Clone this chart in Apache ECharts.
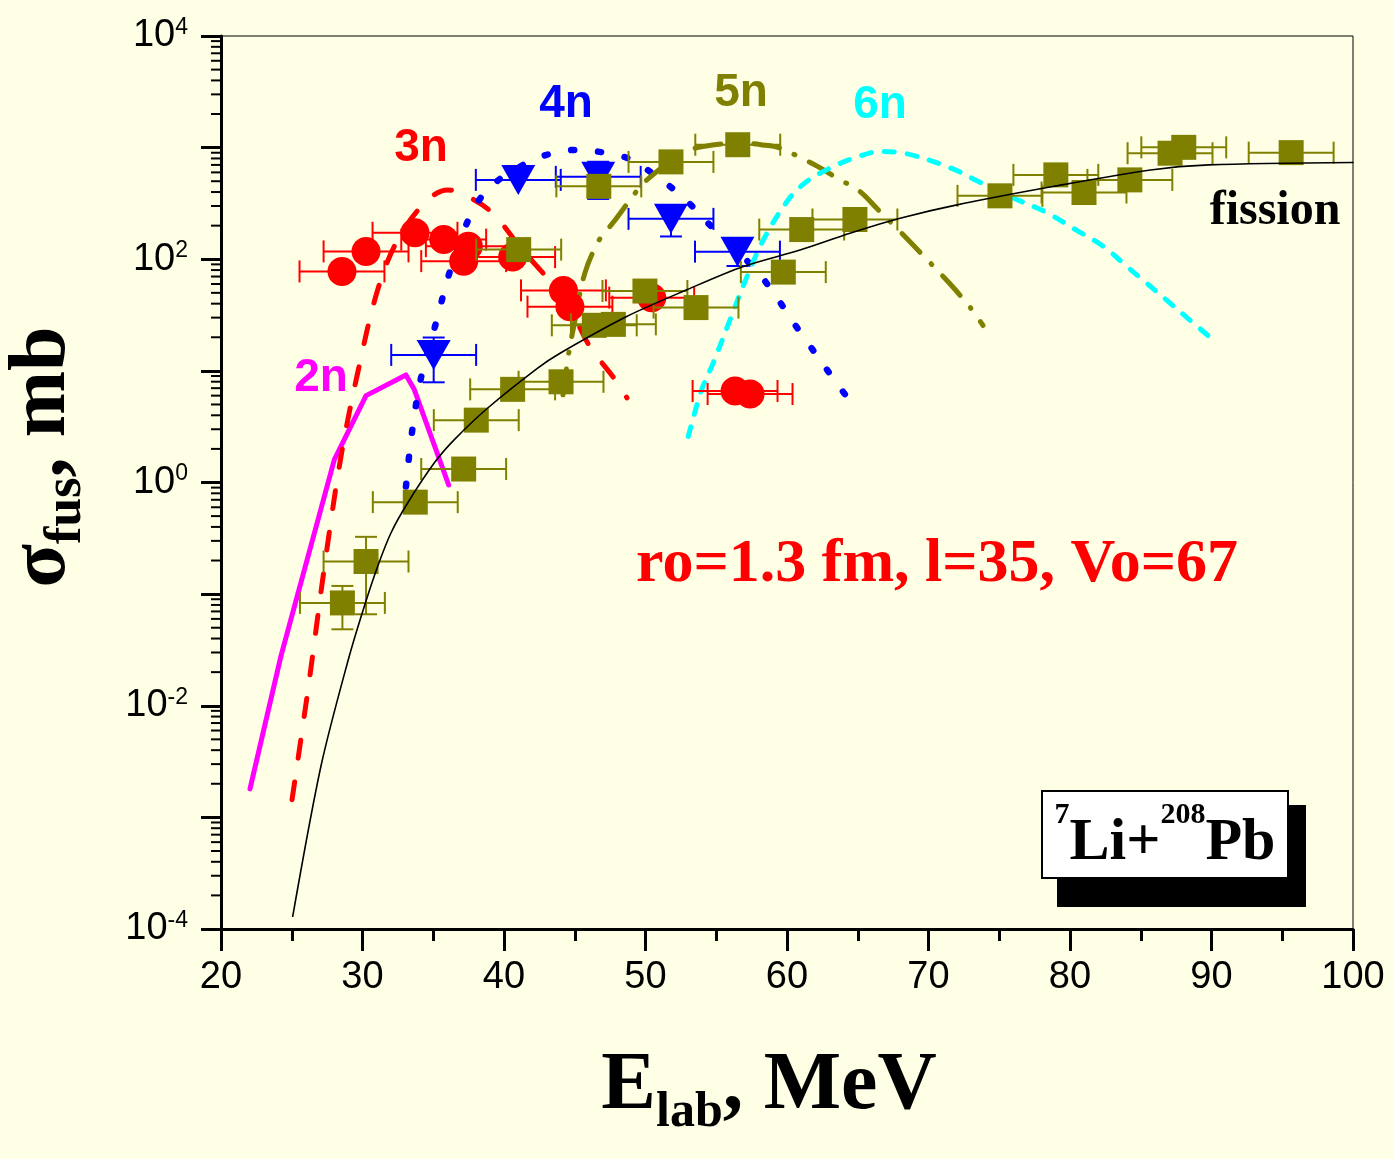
<!DOCTYPE html>
<html>
<head>
<meta charset="utf-8">
<script src="https://cdn.jsdelivr.net/npm/echarts@6/dist/echarts.min.js"></script>
<style>
  html, body { margin: 0; padding: 0; background: #FFFFE6; }
  #chart { width: 1393px; height: 1159px; }
</style>
</head>
<body>
<div id="chart"></div>
<script>
// ---- Measured cross sections (E_lab in MeV, sigma in mb) ----
const energySpread = 3; // +/- MeV on every measured point

// 3n evaporation residues (red circles)
const n3E = [28.55, 30.25, 33.71, 35.74, 37.15, 37.48, 40.61, 44.2, 44.66, 50.44, 56.33, 57.39];
const n3S = [77.8, 117.6, 172.6, 150, 96.2, 131, 104.5, 52.6, 37.6, 45.3, 6.6, 6.2];

// 4n evaporation residues (blue triangles) with sigma errors
const n4E = [35.03, 41.01, 46.66, 51.8, 56.5];
const n4S = [13.9, 514, 547, 230, 117];
const n4Err = [6, 0, 200, 70, 30];

// fission (olive squares) with sigma errors
const fisE = [28.58, 30.25, 33.73, 37.15, 38.04, 40.61, 41.04, 44.03, 46.38, 46.7, 47.73, 49.96, 51.8,
              53.57, 56.52, 59.74, 61.04, 64.8, 75.05, 79.0, 80.99, 84.23, 87.07, 88.04, 95.63];
const fisS = [0.0834, 0.196, 0.667, 1.32, 3.62, 6.83, 122, 7.98, 25.6, 450, 26.1, 51.9, 745,
              36.9, 1062, 76.7, 184.5, 227, 370, 570, 396, 514, 891, 1006, 902];
const fisErr = [0.035, 0.13, 0, 0, 0, 0, 0, 0, 0, 0, 0, 0, 0,
                0, 0, 0, 0, 0, 0, 0, 0, 0, 0, 0, 0];

// ---- Calculated excitation functions [E_lab, sigma] ----
const calc2n = [[22.05, 0.0018], [24.24, 0.028], [28.01, 1.6], [30.25, 6.0], [33.07, 9.2], [33.66, 6.8], [36.09, 0.95]];
const calc3n = [[25.02, 0.00144], [26.17, 0.0146], [27.35, 0.191], [28.48, 1.71], [29.66, 9.6], [31.07, 53],
                [32.49, 149], [34.49, 329], [36.02, 418], [37.9, 340], [39.31, 250], [41.13, 129],
                [44.31, 43], [46.08, 16.4], [47.7, 8.85], [48.69, 5.74]];
const calc4n = [[33.07, 0.92], [33.48, 2.72], [34.13, 8.6], [35.19, 26.8], [36.25, 83.2], [37.72, 262],
                [39.08, 450], [41.13, 676], [43.0, 861], [44.97, 953], [46.9, 910], [48.86, 792],
                [50.79, 550], [52.72, 352], [54.61, 199], [58.09, 72.4], [60.85, 23], [63.63, 7.4], [65.11, 4.19]];
const calc5n = [[44.17, 6.1], [44.54, 13.5], [45.02, 28.6], [45.72, 75.5], [46.73, 149], [47.7, 212],
                [49.02, 355], [49.96, 497], [52.65, 897], [54.06, 1021], [56.7, 1100], [58.3, 1057],
                [59.5, 993], [61.04, 803], [62.19, 676], [63.51, 536], [65.16, 404], [66.34, 286],
                [67.75, 190], [69.25, 121], [71.45, 61.5], [72.97, 36.7], [73.85, 25.5]];
const calc6n = [[53.02, 2.59], [53.97, 6.78], [54.79, 11.8], [55.97, 28.6], [57.03, 63.1], [58.33, 149],
                [60.09, 341], [61.39, 497], [63.04, 655], [64.69, 803], [66.57, 921], [68.27, 891],
                [71.59, 655], [73.53, 497], [76.02, 352], [78.23, 267], [80.42, 183], [82.37, 130],
                [84.03, 86.1], [85.41, 61.1], [87.07, 40.5], [88.45, 28.6], [89.96, 19.7]];
const calcFission = [[25.07, 0.00013], [27.07, 0.0029], [29.0, 0.026], [30.13, 0.078], [31.07, 0.177],
                     [32.01, 0.353], [33.19, 0.655], [35.08, 1.5], [36.49, 2.42], [38.85, 4.65],
                     [42.38, 10.6], [43.96, 14.4], [48.67, 30.7], [52.91, 53.2], [56.91, 86.1],
                     [60.92, 121], [64.45, 171], [67.99, 233], [72.01, 307], [78.78, 448],
                     [85.69, 631], [89.82, 700], [100, 735]];

// ---- Axis ticks ----
const xTicks = { min: 20, max: 100, step: 10 };
const yDecades = { min: -4, max: 4 };

const RED = '#FF0000', BLUE = '#0000FF', OLIVE = '#808000', MAGENTA = '#FF00FF', CYAN = '#00FFFF';
const SANS = 'Liberation Sans, Arial, sans-serif';
const SERIF = 'Liberation Serif, Times New Roman, serif';

// minor (2..9) ticks of the log axis, drawn as short outward strokes
const logMinorTicks = [];
for (let k = yDecades.min; k < yDecades.max; k++) {
  for (let m = 2; m <= 9; m++) logMinorTicks.push([xTicks.min, m * Math.pow(10, k)]);
}

function errorBars(xs, ys, dys, color, z) {
  return {
    type: 'custom',
    z: z,
    silent: true,
    clip: false,
    encode: { x: 0, y: 1 },
    data: xs.map((x, i) => [x, ys[i], energySpread, dys ? dys[i] : 0]),
    renderItem: function (params, api) {
      const x = api.value(0), y = api.value(1), ex = api.value(2), ey = api.value(3);
      const c = api.coord([x, y]);
      const l = api.coord([x - ex, y]);
      const r = api.coord([x + ex, y]);
      const h = 11;
      const style = { stroke: color, lineWidth: 2, fill: null };
      const kids = [
        { type: 'line', shape: { x1: l[0], y1: c[1], x2: r[0], y2: c[1] }, style: style },
        { type: 'line', shape: { x1: l[0], y1: c[1] - h, x2: l[0], y2: c[1] + h }, style: style },
        { type: 'line', shape: { x1: r[0], y1: c[1] - h, x2: r[0], y2: c[1] + h }, style: style }
      ];
      if (ey > 0) {
        const t = api.coord([x, y + ey]);
        const b = api.coord([x, Math.max(y - ey, 1e-5)]);
        kids.push({ type: 'line', shape: { x1: c[0], y1: t[1], x2: c[0], y2: b[1] }, style: style });
        kids.push({ type: 'line', shape: { x1: c[0] - h, y1: t[1], x2: c[0] + h, y2: t[1] }, style: style });
        kids.push({ type: 'line', shape: { x1: c[0] - h, y1: b[1], x2: c[0] + h, y2: b[1] }, style: style });
      }
      return { type: 'group', children: kids };
    }
  };
}

function curve(data, color, width, dash, z, smooth) {
  return {
    type: 'line',
    data: data,
    z: z,
    silent: true,
    symbol: 'none',
    showSymbol: false,
    smooth: smooth,
    lineStyle: { color: color, width: width, type: dash, cap: 'round', join: 'round' }
  };
}

function points(xs, ys, symbol, size, color, z, rotate) {
  return {
    type: 'scatter',
    z: z,
    silent: true,
    symbol: symbol,
    symbolSize: size,
    symbolRotate: rotate || 0,
    itemStyle: { color: color, opacity: 1 },
    data: xs.map((x, i) => [x, ys[i]])
  };
}

function label(text, x, y, color, size, family) {
  return {
    type: 'text', x: x, y: y, silent: true,
    style: {
      text: text, fill: color, font: 'bold ' + size + 'px ' + family,
      align: 'center', verticalAlign: 'middle', textAlign: 'center', textVerticalAlign: 'middle'
    }
  };
}

const chart = echarts.init(document.getElementById('chart'), null, { renderer: 'canvas' });

chart.setOption({
  animation: false,
  backgroundColor: '#FFFFE6',
  grid: {
    left: 221, right: 40, top: 36, bottom: 230,
    show: true, borderColor: '#000', borderWidth: 1, backgroundColor: 'transparent',
    containLabel: false, outerBoundsMode: 'none'
  },
  xAxis: {
    type: 'value',
    min: xTicks.min, max: xTicks.max, interval: xTicks.step,
    axisLine: { onZero: false, lineStyle: { color: '#000', width: 3 } },
    axisTick: { inside: false, length: 22, lineStyle: { color: '#000', width: 3 } },
    minorTick: { show: true, splitNumber: 2, length: 12, lineStyle: { color: '#000', width: 3 } },
    splitLine: { show: false },
    minorSplitLine: { show: false },
    axisLabel: { color: '#000', fontFamily: SANS, fontSize: 38, margin: 30 }
  },
  yAxis: {
    type: 'log', logBase: 10,
    min: Math.pow(10, yDecades.min), max: Math.pow(10, yDecades.max),
    axisLine: { onZero: false, lineStyle: { color: '#000', width: 3 } },
    axisTick: { inside: false, length: 20, lineStyle: { color: '#000', width: 3 } },
    splitLine: { show: false },
    axisLabel: {
      margin: 33,
      formatter: function (v) {
        const e = Math.round(Math.log10(v));
        if (e % 2 !== 0) return '';
        return '{b|10}{s|' + e + '}';
      },
      rich: {
        b: { fontFamily: SANS, fontSize: 38, lineHeight: 40, color: '#000' },
        s: { fontFamily: SANS, fontSize: 23, lineHeight: 23, color: '#000', verticalAlign: 'top' }
      }
    }
  },
  graphic: [
    // axis titles
    {
      type: 'text', x: 43, y: 457, rotation: Math.PI / 2, silent: true,
      style: {
        text: '{m|σ}{s|fus}{m|, mb}',
        align: 'center', verticalAlign: 'middle', textAlign: 'center', textVerticalAlign: 'middle',
        rich: {
          m: { fontFamily: SERIF, fontWeight: 'bold', fontSize: 80, lineHeight: 99, fill: '#000', color: '#000' },
          s: { fontFamily: SERIF, fontWeight: 'bold', fontSize: 52, lineHeight: 20, fill: '#000', color: '#000', verticalAlign: 'bottom' }
        }
      }
    },
    {
      type: 'text', x: 769, y: 1087, silent: true,
      style: {
        text: '{m|E}{s|lab}{m|, MeV}',
        align: 'center', verticalAlign: 'middle', textAlign: 'center', textVerticalAlign: 'middle',
        rich: {
          m: { fontFamily: SERIF, fontWeight: 'bold', fontSize: 82, lineHeight: 102, fill: '#000', color: '#000' },
          s: { fontFamily: SERIF, fontWeight: 'bold', fontSize: 50, lineHeight: 20, fill: '#000', color: '#000', verticalAlign: 'bottom' }
        }
      }
    },
    // curve labels
    label('2n', 321, 378, MAGENTA, 46, SANS),
    label('3n', 421, 148, RED, 46, SANS),
    label('4n', 566, 104, BLUE, 46, SANS),
    label('5n', 741, 93, OLIVE, 46, SANS),
    label('6n', 880, 105, CYAN, 46, SANS),
    label('fission', 1275, 212, '#000', 48, SERIF),
    label('ro=1.3 fm, l=35, Vo=67', 937, 565, RED, 62, SERIF),
    // reaction box with drop shadow
    { type: 'rect', silent: true, shape: { x: 1057, y: 805, width: 249, height: 102 }, style: { fill: '#000' } },
    { type: 'rect', silent: true, shape: { x: 1042, y: 791, width: 246, height: 87 }, style: { fill: '#FFFFFF', stroke: '#000', lineWidth: 2 } },
    {
      type: 'text', x: 1165, y: 843, silent: true,
      style: {
        text: '{p|7}{m|Li+}{p|208}{m|Pb}',
        align: 'center', verticalAlign: 'middle', textAlign: 'center', textVerticalAlign: 'middle',
        rich: {
          m: { fontFamily: SERIF, fontWeight: 'bold', fontSize: 60, lineHeight: 86, fill: '#000', color: '#000' },
          p: { fontFamily: SERIF, fontWeight: 'bold', fontSize: 30, lineHeight: 30, fill: '#000', color: '#000', verticalAlign: 'top' }
        }
      }
    }
  ],
  series: [
    // log-axis minor ticks
    {
      type: 'custom', silent: true, clip: false, z: 1,
      encode: { x: 0, y: 1 },
      data: logMinorTicks,
      renderItem: function (params, api) {
        const p = api.coord([api.value(0), api.value(1)]);
        return { type: 'line', shape: { x1: p[0] - 10, y1: p[1], x2: p[0], y2: p[1] }, style: { stroke: '#000', lineWidth: 2 } };
      }
    },
    // calculated xn channels
    curve(calc2n, MAGENTA, 5, 'solid', 2, false),
    curve(calc3n, RED, 5, [18, 24], 2, 0.35),
    curve(calc4n, BLUE, 6.5, [3, 24], 2, 0.35),
    curve(calc5n, OLIVE, 5, [26, 16, 1, 16], 2, 0.35),
    curve(calc6n, CYAN, 5, [10, 13], 2, 0.35),
    // measured points
    errorBars(n4E, n4S, n4Err, BLUE, 3),
    points(n4E, n4S, 'triangle', [34, 30], BLUE, 3, 180),
    errorBars(n3E, n3S, null, RED, 4),
    points(n3E, n3S, 'circle', 29, RED, 4),
    errorBars(fisE, fisS, fisErr, OLIVE, 5),
    points(fisE, fisS, 'rect', 25, OLIVE, 5),
    // fission curve on top
    curve(calcFission, '#000', 1.6, 'solid', 6, 0.3)
  ]
});
</script>
</body>
</html>
